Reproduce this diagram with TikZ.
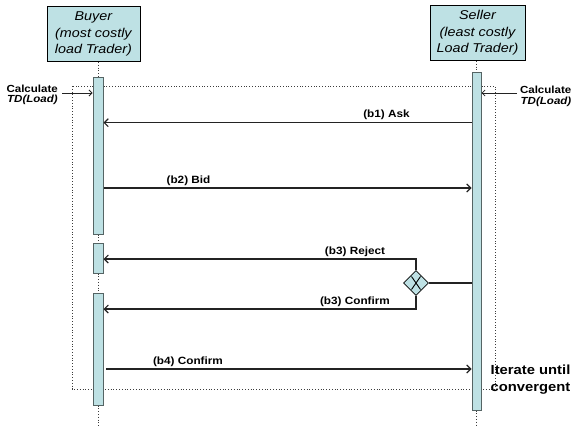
\documentclass[tikz,border=0pt]{standalone}
\usepackage{fontspec}
\setmainfont[FakeStretch=1.12]{Liberation Sans}
\usetikzlibrary{arrows.meta,shapes.geometric}
\definecolor{boxfill}{RGB}{190,225,228}
\definecolor{lineg}{RGB}{35,35,35}
\definecolor{barborder}{RGB}{85,100,100}
\definecolor{dotg}{RGB}{60,60,60}
\begin{document}
\begin{tikzpicture}[x=1pt,y=-1pt,
  actor/.style={draw=black, fill=boxfill, line width=0.8pt, minimum width=93pt, minimum height=55pt, inner sep=0pt, align=center, font=\fontsize{12.8}{16.5}\selectfont\itshape},
  actbar/.style={draw=barborder, fill=boxfill, line width=1pt, minimum width=10pt, inner sep=0pt},
  life/.style={draw=dotg, dotted, line width=0.8pt},
  frame/.style={draw=dotg, dotted, line width=0.8pt},
  msg/.style={draw=lineg, line width=1.1pt, -{Straight Barb[length=4pt,width=8pt]}},
  plainln/.style={draw=lineg, line width=1.1pt},
  lbl/.style={font=\fontsize{10.5}{12}\selectfont\bfseries, inner sep=0pt, anchor=base},
  side/.style={font=\fontsize{10.3}{12}\selectfont\bfseries, inner sep=0pt},
  iter/.style={font=\fontsize{13.2}{15}\selectfont\bfseries, inner sep=0pt, anchor=base west},
  gate/.style={diamond, draw=black, fill=boxfill, line width=0.8pt, minimum width=25pt, minimum height=25pt, inner sep=0pt}
]
\useasboundingbox (0,0) rectangle (572,428);

% frame (iteration)
\draw[frame] (72,86) rectangle (495,389);

% actors
\node[actor] (buyer) at (93.4,34) {Buyer\\(most costly\\load Trader)};
\node[actor, minimum width=95pt] (seller) at (477.5,33) {Seller\\(least costly\\Load Trader)};

% lifeline coordinates
\coordinate (bend) at (98,427);
\coordinate (send) at (476.5,427);

% activation bars
\node[actbar, minimum height=157pt] (b1bar) at (98,155.5) {};
\node[actbar, minimum height=30pt] (b2bar) at (98,258) {};
\node[actbar, minimum height=112pt] (b3bar) at (98,349) {};
\node[actbar, minimum width=9pt, minimum height=338pt] (sbar) at (476.5,241) {};

% lifelines
\draw[life] (buyer.south -| b1bar.north) -- (b1bar.north);
\draw[life] (b1bar.south) -- (b2bar.north);
\draw[life] (b2bar.south) -- (b3bar.north);
\draw[life] (b3bar.south) -- (bend);
\draw[life] (seller.south -| sbar.north) -- (sbar.north);
\draw[life] (sbar.south) -- (send);

% calculate labels
\node[side, anchor=base east] (cl1) at (58,92) {Calculate};
\node[side, anchor=base east] (cl2) at (58,102.5) {\itshape TD(Load)};
\node[side, anchor=base east] (cr1) at (571.5,93.5) {Calculate};
\node[side, anchor=base east] (cr2) at (571.5,104) {\itshape TD(Load)};
\coordinate (clstart) at (62,93);
\coordinate (crstart) at (517,93);
\draw[msg, line width=0.8pt, -{Straight Barb[length=3pt,width=6pt]}] (clstart) -- (clstart -| b1bar.west);
\draw[msg, line width=0.8pt, -{Straight Barb[length=3pt,width=6pt]}] (crstart) -- (crstart -| sbar.east);

% (b1) Ask
\draw[msg] (sbar.west |- 0,122.7) -- (b1bar.east |- 0,122.7);
\node[lbl] (l1) at (386.5,117.5) {(b1) Ask};

% (b2) Bid
\draw[msg] (b1bar.east |- 0,188) -- (sbar.west |- 0,188);
\node[lbl] (l2) at (188.5,183) {(b2) Bid};

% gateway
\node[gate] (gw) at (416,283) {};
\draw[line width=0.9pt] ([shift={(-4.5,-6.5)}]gw.center) -- ([shift={(4.5,6.5)}]gw.center);
\draw[line width=0.9pt] ([shift={(4.5,-6.5)}]gw.center) -- ([shift={(-4.5,6.5)}]gw.center);
\draw[plainln] (gw.east) -- (gw.east -| sbar.west);

% (b3) Reject
\draw[msg] (gw.north) |- (b2bar.east |- 0,259);
\node[lbl] (l3) at (355,254) {(b3) Reject};

% (b3) Confirm
\draw[msg] (gw.south) |- (b3bar.east |- 0,309);
\node[lbl] (l4) at (355,304) {(b3) Confirm};

% (b4) Confirm
\draw[msg] (106,369) -- (sbar.west |- 0,369);
\node[lbl] (l5) at (188,364) {(b4) Confirm};

% iterate
\node[iter] (it1) at (490.5,374) {Iterate until};
\node[iter] (it2) at (490.5,391.5) {convergent};
\end{tikzpicture}
\end{document}
